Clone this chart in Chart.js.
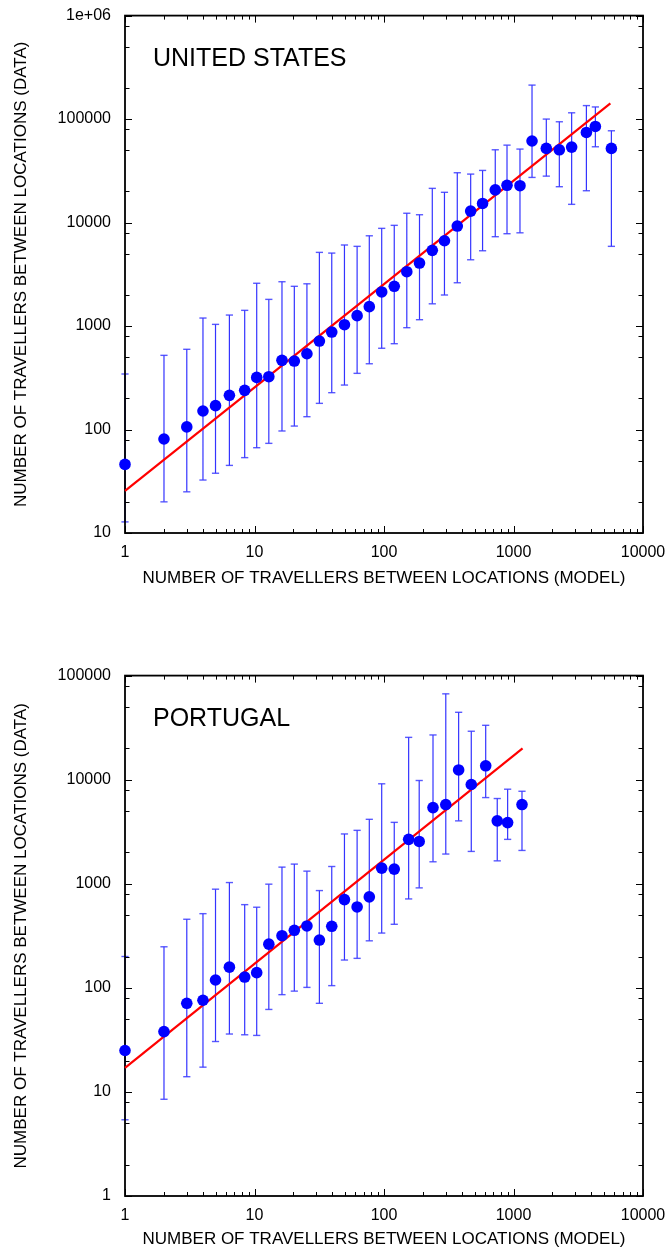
<!DOCTYPE html>
<html>
<head>
<meta charset="utf-8">
<title>Travellers between locations: model vs data</title>
<script src="https://cdn.jsdelivr.net/npm/chart.js@4.4.1/dist/chart.umd.min.js"></script>
<style>
  html, body { margin: 0; padding: 0; background: #fff; }
  canvas { position: absolute; left: 0; }
  #us-chart { top: 0; }
  #pt-chart { top: 660px; }
</style>
</head>
<body>
<canvas id="us-chart" width="672" height="600"></canvas>
<canvas id="pt-chart" width="672" height="590"></canvas>
<script>
// United States: binned model flow vs observed flow, with spread per bin
const usModel = [1, 2, 3, 4, 5, 6.4, 8.4, 10.4, 12.9, 16.3, 20.3, 25.4, 31.7, 39.5, 49.5, 62, 77,
    96, 120, 150, 188, 236, 293, 368, 467, 577, 723, 891, 1122, 1390, 1792, 2259, 2812, 3655, 4287, 5700];
const usData = [46, 81, 106, 151, 170, 214, 239, 319, 324, 466, 459, 540, 716, 875, 1030, 1260, 1540,
    2134, 2421, 3350, 4060, 5390, 6670, 9250, 12900, 15300, 20700, 22900, 22700, 61400, 52100, 50500, 53600, 74300, 84900, 52100];
const usHigh = [344, 521, 596, 1195, 1038, 1277, 1418, 2590, 1810, 2680, 2420, 2560, 5150, 5070, 6070, 5890, 7450,
    8790, 9400, 12300, 11900, 21400, 19600, 30300, 29400, 31900, 50500, 56000, 51300, 213000, 100000, 94200, 115000, 135000, 131000, 77100];
const usLow = [12.8, 20, 25, 32.5, 37.8, 45, 53.5, 66.7, 73.5, 96.8, 108, 133, 179, 227, 269, 349, 432,
    610, 675, 964, 1151, 1640, 1995, 2620, 4370, 5340, 7300, 7800, 7960, 27300, 28100, 22200, 15000, 20300, 54000, 5890];
const usFit = [[1, 25.5], [5600, 142000]];

// Portugal
const ptModel = [1, 2, 3, 4, 5, 6.4, 8.4, 10.4, 12.9, 16.3, 20.3, 25.4, 31.7, 39.5, 49.5, 62, 77,
    96, 120, 155, 187, 239, 300, 377, 472, 610, 749, 901, 1163];
const ptData = [25, 38, 71, 76, 119, 158, 127, 140, 263, 317, 357, 393, 288, 390, 704, 599, 748,
    1413, 1383, 2670, 2550, 5390, 5770, 12400, 8990, 13600, 4020, 3870, 5770];
const ptHigh = [200, 248, 456, 516, 887, 1027, 630, 595, 991, 1445, 1545, 1322, 860, 1465, 3010, 3260, 4160,
    9130, 3890, 25500, 9820, 26900, 66800, 44400, 29200, 33300, 6590, 8100, 7740];
const ptLow = [5.4, 8.5, 14, 17.3, 30.5, 36, 35.4, 34.9, 62, 86, 93, 101, 71, 105, 185, 192, 283,
    336, 408, 715, 913, 1626, 1930, 4020, 2045, 6730, 1660, 2670, 2090];
const ptFit = [[1, 17], [1175, 20000]];

// Axis ticks
const xTicks = [1, 10, 100, 1000, 10000];
const xTickLabels = ['1', '10', '100', '1000', '10000'];
const usYTicks = [10, 100, 1000, 10000, 100000, 1000000];
const usYTickLabels = ['10', '100', '1000', '10000', '100000', '1e+06'];
const ptYTicks = [1, 10, 100, 1000, 10000, 100000];
const ptYTickLabels = ['1', '10', '100', '1000', '10000', '100000'];

const FONT = "'Liberation Sans', Arial, Helvetica, sans-serif";
const BLUE = '#0000ff';

/**
 * Vertical error segments: low -> high per bin, broken by a null point
 */
function errorBarPoints(xs, lows, highs) {
    const pts = [];
    xs.forEach((x, i) => {
        pts.push({ x: x, y: lows[i] }, { x: x, y: highs[i] }, { x: x, y: null });
    });
    return pts;
}

function pairsToPoints(pairs) {
    return pairs.map(p => ({ x: p[0], y: p[1] }));
}

/**
 * Frame with inward major/minor ticks on all four sides,
 * drawn right after the error bars so points sit on top.
 */
const framePlugin = {
    id: 'frame',
    afterDatasetDraw(chart, args) {
        if (chart.data.datasets[args.index].label !== 'spread') return;
        const { ctx, chartArea: a, scales } = chart;
        const minorY = chart.options.plugins.frame.minorY;
        ctx.save();
        ctx.strokeStyle = '#000';
        ctx.lineWidth = 1;

        const decadesBetween = (min, max) => {
            const out = [];
            for (let d = min; d < max * 1.0001; d *= 10) out.push(d);
            return out;
        };

        // x ticks (bottom + top)
        const xd = decadesBetween(scales.x.min, scales.x.max);
        xd.forEach(d => {
            const marks = [[d, 7]];
            if (d < scales.x.max) [2, 3, 4, 5, 6, 7, 8, 9].forEach(m => marks.push([d * m, 4]));
            marks.forEach(([v, len]) => {
                const px = Math.round(scales.x.getPixelForValue(v)) + 0.5;
                ctx.beginPath();
                ctx.moveTo(px, a.bottom); ctx.lineTo(px, a.bottom - len);
                ctx.moveTo(px, a.top); ctx.lineTo(px, a.top + len);
                ctx.stroke();
            });
        });

        // y ticks (left + right)
        const yd = decadesBetween(scales.y.min, scales.y.max);
        yd.forEach(d => {
            const marks = [[d, 7]];
            if (d < scales.y.max) minorY.forEach(m => marks.push([d * m, 4.5]));
            marks.forEach(([v, len]) => {
                const py = Math.round(scales.y.getPixelForValue(v)) + 0.5;
                ctx.beginPath();
                ctx.moveTo(a.left, py); ctx.lineTo(a.left + len, py);
                ctx.moveTo(a.right, py); ctx.lineTo(a.right - len, py);
                ctx.stroke();
            });
        });

        ctx.lineWidth = 1.8;
        ctx.strokeRect(a.left, a.top, a.right - a.left, a.bottom - a.top);

        // country label inside the plot
        ctx.fillStyle = '#000';
        ctx.font = '25px ' + FONT;
        ctx.textBaseline = 'middle';
        ctx.textAlign = 'left';
        ctx.fillText(chart.options.plugins.frame.label, a.left + 28, a.top + 44);
        ctx.restore();
    }
};

/**
 * Build one log-log panel
 */
function buildChart(canvasId, cfg) {
    return new Chart(document.getElementById(canvasId), {
        type: 'line',
        data: {
            datasets: [
                {
                    label: 'binned',
                    data: cfg.model.map((x, i) => ({ x: x, y: cfg.data[i] })),
                    showLine: false,
                    pointRadius: 5.8,
                    pointBackgroundColor: BLUE,
                    pointBorderWidth: 0,
                    clip: false,
                    order: 0
                },
                {
                    label: 'fit',
                    data: pairsToPoints(cfg.fit),
                    borderColor: '#ff0000',
                    borderWidth: 2.2,
                    pointRadius: 0,
                    clip: false,
                    order: 1
                },
                {
                    label: 'spread',
                    data: errorBarPoints(cfg.model, cfg.low, cfg.high),
                    borderColor: 'rgba(30, 30, 255, 0.9)',
                    borderWidth: 1.2,
                    spanGaps: false,
                    pointStyle: 'line',
                    pointRadius: 3.6,
                    pointBorderColor: 'rgba(60, 60, 255, 0.85)',
                    pointBorderWidth: 1.4,
                    clip: false,
                    order: 2
                }
            ]
        },
        options: {
            responsive: false,
            animation: false,
            devicePixelRatio: 1,
            layout: { padding: { top: cfg.padTop, right: 29, left: 0, bottom: 0 } },
            plugins: {
                legend: { display: false },
                tooltip: { enabled: false },
                frame: { label: cfg.label, minorY: [2, 5, 8] }
            },
            scales: {
                x: {
                    type: 'logarithmic',
                    min: 1,
                    max: 10000,
                    grid: { display: false },
                    border: { display: false },
                    afterBuildTicks: s => { s.ticks = xTicks.map(v => ({ value: v })); },
                    afterFit: s => { s.height = cfg.xAxisHeight; },
                    ticks: {
                        autoSkip: false,
                        maxRotation: 0,
                        padding: 2,
                        color: '#000',
                        font: { family: FONT, size: 16 },
                        callback: (v, i) => xTickLabels[i]
                    },
                    title: {
                        display: true,
                        text: 'NUMBER OF TRAVELLERS BETWEEN LOCATIONS (MODEL)',
                        color: '#000',
                        font: { family: FONT, size: 17 },
                        padding: { top: 0, bottom: cfg.xTitlePad }
                    }
                },
                y: {
                    type: 'logarithmic',
                    min: cfg.yTicks[0],
                    max: cfg.yTicks[cfg.yTicks.length - 1],
                    grid: { display: false },
                    border: { display: false },
                    afterBuildTicks: s => { s.ticks = cfg.yTicks.map(v => ({ value: v })); },
                    afterFit: s => { s.width = 125; },
                    ticks: {
                        autoSkip: false,
                        padding: 6,
                        color: '#000',
                        font: { family: FONT, size: 16 },
                        callback: (v, i) => cfg.yTickLabels[i]
                    },
                    title: {
                        display: true,
                        text: 'NUMBER OF TRAVELLERS BETWEEN LOCATIONS (DATA)',
                        color: '#000',
                        font: { family: FONT, size: 17 },
                        padding: { top: 11, bottom: 0 }
                    }
                }
            }
        },
        plugins: [framePlugin]
    });
}

buildChart('us-chart', {
    label: 'UNITED STATES',
    model: usModel, data: usData, high: usHigh, low: usLow, fit: usFit,
    yTicks: usYTicks, yTickLabels: usYTickLabels,
    padTop: 9, xAxisHeight: 67, xTitlePad: 11
});

buildChart('pt-chart', {
    label: 'PORTUGAL',
    model: ptModel, data: ptData, high: ptHigh, low: ptLow, fit: ptFit,
    yTicks: ptYTicks, yTickLabels: ptYTickLabels,
    padTop: 10, xAxisHeight: 54, xTitlePad: 0
});
</script>
</body>
</html>
